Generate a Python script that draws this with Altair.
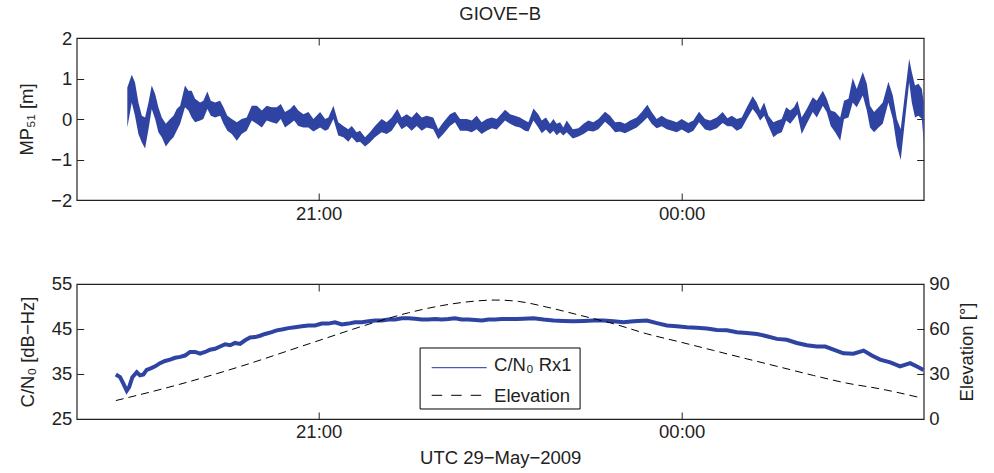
import altair as alt
import pandas as pd

FONT = "Liberation Sans"
BLUE = "#2F44A2"
INK = "#222222"

# x axis: minutes after 19:00 UTC, 29 May 2009
x_domain = [0, 420]
tick_minutes = [120, 300]
tick_labels = ["21:00", "00:00"]

# ---- MP51 multipath (upper / lower envelope of the dense noisy trace) [m]
mp_t = [25.1, 27.3, 28.9, 30.6, 32.3, 33.9, 35.6, 37.2, 38.9, 40.5, 42.2, 44.2, 46.3, 48.0, 49.6, 51.3,
        53.7, 55.4, 57.0, 58.7, 61.2, 62.8, 64.8, 66.5, 68.6, 71.1, 72.8, 74.7, 76.9, 79.4, 81.8, 84.3,
        86.8, 89.3, 91.8, 94.2, 96.7, 99.2, 101.2, 103.3, 105.8, 107.8, 109.9, 112.4, 114.9, 117.4, 120.7, 123.2,
        124.8, 127.3, 129.7, 132.2, 134.7, 136.4, 138.8, 140.5, 143.0, 145.4, 147.9, 151.2, 153.7, 156.2,
        159.0, 161.1, 163.6, 166.1, 168.6, 171.1, 173.5, 176.8, 179.3, 181.8, 185.1, 187.6, 190.1, 193.4,
        195.9, 198.3, 200.8, 203.3, 205.8, 208.3, 212.4, 214.9, 217.3, 219.8, 222.3,
        224.0, 226.5, 228.9, 230.6, 232.7, 234.7, 236.4, 238.0, 239.7, 241.3, 243.0, 246.0, 248.8, 251.3,
        253.7, 256.2, 258.7, 262.0, 264.5, 267.0, 269.4, 271.9, 274.4, 277.7, 280.2, 283.0, 285.1, 287.6,
        290.1, 292.6, 295.1, 297.5, 300.0, 303.3, 305.8, 308.6, 311.6, 314.1, 317.4, 320.3, 322.7,
        324.8, 327.3, 329.8, 332.3, 335.2, 337.2, 338.9, 340.9, 343.0, 345.5, 347.5, 349.6, 351.8, 353.8,
        355.7, 357.4, 359.5, 362.0, 365.0, 367.0, 370.0, 371.9, 373.9, 376.1, 378.6, 380.5, 382.7, 384.8,
        386.8, 389.8, 391.8, 393.4, 395.4, 397.6, 399.7, 402.5, 404.7, 406.7, 408.6, 410.8, 412.8, 414.1,
        415.7, 417.4, 419.1, 420.0]
mp_hi = [0.78, 1.09, 0.91, 0.41, 0.08, 0.04, 0.41, 0.83, 0.62, 0.29, 0.04, -0.12, 0.00, 0.08, 0.25, 0.33,
         0.83, 0.70, 0.70, 0.50, 0.41, 0.45, 0.68, 0.45, 0.41, 0.45, 0.29, 0.08, 0.00, -0.08, 0.00, 0.04,
         0.33, 0.33, 0.21, 0.33, 0.29, 0.29, 0.37, 0.17, 0.25, 0.35, 0.21, 0.12, 0.17, 0.00, 0.17, 0.00,
         0.04, 0.33, -0.08, -0.17, -0.25, -0.17, -0.33, -0.29, -0.45, -0.33, -0.17, 0.00, -0.08, 0.04,
         0.25, 0.04, 0.12, 0.04, 0.17, 0.04, 0.08, 0.04, -0.25, -0.08, 0.12, 0.18, 0.00, 0.00,
         -0.04, 0.08, -0.08, 0.00, 0.04, 0.00, 0.23, 0.12, 0.08, 0.04, -0.04,
         -0.08, 0.26, 0.12, -0.04, 0.04, -0.12, 0.00, -0.12, -0.08, -0.21, -0.04, -0.25, -0.23, -0.12,
         -0.04, -0.08, 0.00, 0.18, 0.08, -0.08, -0.07, -0.12, -0.04, 0.04, 0.17, 0.35, 0.17, 0.00,
         0.08, 0.00, -0.04, -0.08, 0.00, -0.10, -0.04, 0.18, 0.00, -0.04, 0.04, 0.17, 0.02,
         0.08, 0.00, 0.04, 0.29, 0.56, 0.41, 0.21, 0.41, 0.08, -0.08, -0.04, 0.00, 0.29, 0.21,
         0.29, 0.45, 0.04, 0.25, 0.54, 0.45, 0.70, 0.50, 0.21, 0.17, 0.04, 0.45, 0.50, 1.01,
         0.74, 1.16, 0.87, 0.33, 0.17, 0.29, 0.41, 0.92, 0.58, 0.00, -0.25, 0.66, 1.49, 1.16,
         0.83, 0.87, 0.74, 0.41]
mp_lo = [-0.21, 0.41, 0.08, -0.37, -0.58, -0.73, -0.25, 0.25, 0.00, -0.33, -0.45, -0.68, -0.54, -0.45, -0.29, -0.12,
         0.29, 0.21, 0.04, -0.08, -0.04, 0.00, 0.25, 0.08, 0.04, 0.08, -0.12, -0.29, -0.37, -0.54, -0.37, -0.29,
         -0.04, -0.12, -0.21, -0.04, -0.08, -0.12, 0.00, -0.21, -0.12, -0.04, -0.17, -0.21, -0.21, -0.31, -0.21, -0.29,
         -0.25, 0.00, -0.41, -0.45, -0.56, -0.45, -0.58, -0.56, -0.68, -0.58, -0.45, -0.33, -0.37, -0.29,
         -0.08, -0.25, -0.17, -0.29, -0.17, -0.29, -0.21, -0.25, -0.50, -0.37, -0.17, -0.08, -0.29, -0.29,
         -0.33, -0.25, -0.37, -0.29, -0.23, -0.26, -0.04, -0.12, -0.18, -0.21, -0.29,
         -0.31, -0.04, -0.21, -0.35, -0.26, -0.37, -0.29, -0.40, -0.33, -0.41, -0.33, -0.48, -0.43, -0.37,
         -0.29, -0.31, -0.25, -0.07, -0.18, -0.33, -0.31, -0.35, -0.29, -0.21, -0.10, 0.04, -0.12, -0.23,
         -0.18, -0.25, -0.29, -0.33, -0.26, -0.35, -0.29, -0.08, -0.26, -0.29, -0.23, -0.10, -0.18,
         -0.18, -0.29, -0.23, 0.00, 0.25, 0.12, -0.04, 0.08, -0.17, -0.45, -0.37, -0.33, -0.04, -0.12,
         0.00, 0.12, -0.37, -0.12, 0.17, 0.04, 0.33, 0.17, -0.17, -0.33, -0.54, 0.00, 0.04, 0.41,
         0.29, 0.58, 0.21, -0.21, -0.33, -0.21, -0.12, 0.41, 0.00, -0.66, -1.01, 0.00, 0.91, 0.41,
         0.04, 0.08, 0.00, -0.58]

# ---- C/N0 receiver 1 [dB-Hz]
cn_t = [19.4, 21.5, 23.2, 24.8, 26.0, 27.6, 29.8, 31.4, 33.1, 34.7, 36.4, 38.9, 41.3, 43.8, 46.3, 48.8,
        51.3, 53.7, 56.2, 58.7, 61.2, 63.7, 66.1, 68.6, 71.1, 73.6, 76.1, 78.5, 81.0, 83.5, 86.0, 88.5,
        90.9, 93.4, 96.7, 99.2, 101.7, 105.0, 108.3, 111.6, 114.9, 118.2, 121.5, 124.8, 128.1, 131.4,
        134.7, 138.0, 141.4, 144.7, 148.0, 151.3, 154.6, 157.9, 161.2, 164.5, 167.8, 171.1, 174.4, 177.7,
        181.0, 184.3, 187.6, 190.9, 194.3, 197.6, 200.9, 204.2, 207.5, 210.8, 214.1, 218.2,
        221.6, 226.5, 231.5, 236.4, 241.4, 246.4, 251.3, 256.3, 261.2, 266.2, 271.1, 276.1, 282.7, 287.7,
        292.6, 297.6, 302.6, 307.5, 312.5, 317.4, 322.4, 327.4, 332.3, 337.3, 342.2, 347.2, 352.1, 357.1,
        362.1, 367.0, 371.2, 375.3, 380.2, 385.2, 390.2, 394.3, 398.4, 403.4, 408.3, 413.3, 417.4, 419.9]
cn_v = [34.9, 34.3, 32.8, 31.3, 32.1, 34.3, 35.4, 34.7, 34.9, 35.9, 36.2, 36.7, 37.4, 37.9, 38.2, 38.6,
        38.8, 39.1, 39.9, 39.9, 39.5, 39.9, 40.4, 40.6, 41.1, 41.6, 41.4, 41.9, 41.7, 42.5, 43.1, 43.2,
        43.5, 43.9, 44.3, 44.7, 44.9, 45.2, 45.4, 45.6, 45.8, 45.8, 46.2, 46.2, 46.5, 46.0,
        46.2, 46.5, 46.5, 46.7, 46.9, 46.9, 47.1, 47.1, 47.4, 47.4, 47.3, 47.1, 47.1, 47.2,
        47.1, 47.2, 47.4, 47.1, 47.1, 47.0, 46.9, 47.1, 47.1, 47.2, 47.2, 47.2,
        47.3, 47.4, 47.1, 46.9, 46.8, 46.7, 46.8, 46.9, 46.9, 46.7, 46.5, 46.7, 46.9, 46.3,
        45.8, 45.6, 45.4, 45.3, 45.1, 44.8, 44.7, 44.3, 44.1, 43.9, 43.4, 42.8, 42.6, 41.9,
        41.4, 41.1, 41.1, 40.4, 39.6, 39.5, 40.2, 39.1, 38.2, 37.6, 36.7, 37.4, 36.5, 35.9]

# ---- satellite elevation [deg]
el_t = [19.4, 48.8, 81.8, 114.9, 148.0, 164.5, 181.0, 197.6, 207.5, 219.0, 233.1, 249.7, 266.2,
        282.7, 299.3, 315.8, 332.3, 348.8, 365.4, 381.9, 398.4, 417.4]
el_v = [12.3, 22.3, 35.3, 50.0, 64.5, 70.8, 75.6, 78.6, 79.3, 78.4, 74.6, 69.1, 63.5,
        56.8, 51.3, 45.7, 40.1, 34.6, 29.0, 23.9, 20.1, 14.5]

series_names = ["C/N₀ Rx1", "Elevation"]

mp_df = pd.DataFrame({"t": mp_t, "hi": mp_hi, "lo": mp_lo})
cn_df = pd.DataFrame({"t": cn_t, "v": cn_v})
el_df = pd.DataFrame({"t": el_t, "v": el_v})
leg_df = pd.DataFrame({"label": series_names})

label_expr = " : ".join(
    f"datum.value == {m} ? '{lab}'" for m, lab in zip(tick_minutes, tick_labels)
) + " : ''"

TICK = 7
FS = 18.5
W, H1, H2 = 847, 162, 135


def x_axis(orient, labels, title=None):
    return alt.Axis(orient=orient, values=tick_minutes, labelExpr=label_expr, labels=labels,
                    title=title, tickSize=TICK, offset=-TICK, domain=False, grid=False,
                    labelPadding=4, titlePadding=7)


def y_axis(orient, values, labels, title=None, pad=14, **kw):
    return alt.Axis(orient=orient, values=values, labels=labels, title=title,
                    tickSize=TICK, offset=-TICK, domain=False, grid=False,
                    labelPadding=5, titlePadding=pad, **kw)


xs = alt.Scale(domain=x_domain, nice=False, zero=False)

# ---------------- top panel
band = alt.Chart(mp_df).mark_area(color=BLUE, opacity=1).encode(
    x=alt.X("t:Q", scale=xs, axis=x_axis("bottom", True)),
    y=alt.Y("hi:Q", scale=alt.Scale(domain=[-2, 2], nice=False),
            axis=y_axis("left", [-2, -1, 0, 1, 2], True, "MP₅₁ [m]")),
    y2="lo:Q",
)
band_mirror = alt.Chart(mp_df).mark_area(opacity=0).encode(
    x=alt.X("t:Q", axis=x_axis("top", False)),
    y=alt.Y("hi:Q", axis=y_axis("right", [-2, -1, 0, 1, 2], False)),
    y2="lo:Q",
)
top = alt.layer(band, band_mirror).resolve_axis(x="independent", y="independent").properties(
    width=W, height=H1,
    title=alt.Title("GIOVE−B", fontSize=FS, font=FONT, fontWeight="normal", color=INK, offset=6),
)

# ---------------- bottom panel
cn_line = alt.Chart(cn_df).mark_line(strokeWidth=4, color=BLUE).encode(
    x=alt.X("t:Q", scale=xs, axis=x_axis("bottom", True, "UTC 29−May−2009")),
    y=alt.Y("v:Q", scale=alt.Scale(domain=[25, 55], nice=False, zero=False),
            axis=y_axis("left", [25, 35, 45, 55], True, "C/N₀ [dB−Hz]")),
)
el_line = alt.Chart(el_df).mark_line(strokeWidth=1, color="black", strokeDash=[8, 5],
                                     interpolate="monotone").encode(
    x=alt.X("t:Q", axis=x_axis("top", False)),
    y=alt.Y("v:Q", scale=alt.Scale(domain=[0, 90], nice=False, zero=False),
            axis=y_axis("right", [0, 30, 60, 90], True, "Elevation [°]", pad=8,
                        titleAngle=270, titleBaseline="top")),
)

# legend box (drawn inside the lower panel)
leg_box = alt.Chart(leg_df.head(1)).mark_rect(fill="white", stroke="black", strokeWidth=1).encode(
    x=alt.value(343.4), x2=alt.value(503.4), y=alt.value(64), y2=alt.value(125))
leg_sym1 = alt.Chart(leg_df.head(1)).mark_rule(color="#4A5DB5", strokeWidth=1.3).encode(
    x=alt.value(355), x2=alt.value(410), y=alt.value(83.7))
leg_sym2 = alt.Chart(leg_df.head(1)).mark_rule(color="black", strokeWidth=1,
                                                strokeDash=[10.5, 9]).encode(
    x=alt.value(355), x2=alt.value(410), y=alt.value(111.3))
leg_txt1 = alt.Chart(leg_df.head(1)).mark_text(align="left", baseline="alphabetic", fontSize=FS,
                                                font=FONT, color=INK).encode(
    x=alt.value(417.4), y=alt.value(87), text=alt.value(series_names[0]))
leg_txt2 = alt.Chart(leg_df.head(1)).mark_text(align="left", baseline="alphabetic", fontSize=FS,
                                                font=FONT, color=INK).encode(
    x=alt.value(417.4), y=alt.value(118), text=alt.value(series_names[1]))

bottom = alt.layer(cn_line, el_line, leg_box, leg_sym1, leg_sym2, leg_txt1, leg_txt2).resolve_scale(
    y="independent").resolve_axis(x="independent", y="independent").properties(width=W, height=H2)

chart = alt.vconcat(top, bottom, spacing=84, bounds="flush").properties(
    padding={"left": 16.7, "top": 3, "right": 5, "bottom": 3}, background="white"
).configure_view(stroke=INK, strokeWidth=1.2).configure_axis(
    labelFont=FONT, titleFont=FONT, labelFontSize=FS, titleFontSize=FS, titleFontWeight="normal",
    labelColor=INK, titleColor=INK, tickColor=INK, tickWidth=1
)

chart.save("out.html", embed_options={"renderer": "svg", "actions": False})
